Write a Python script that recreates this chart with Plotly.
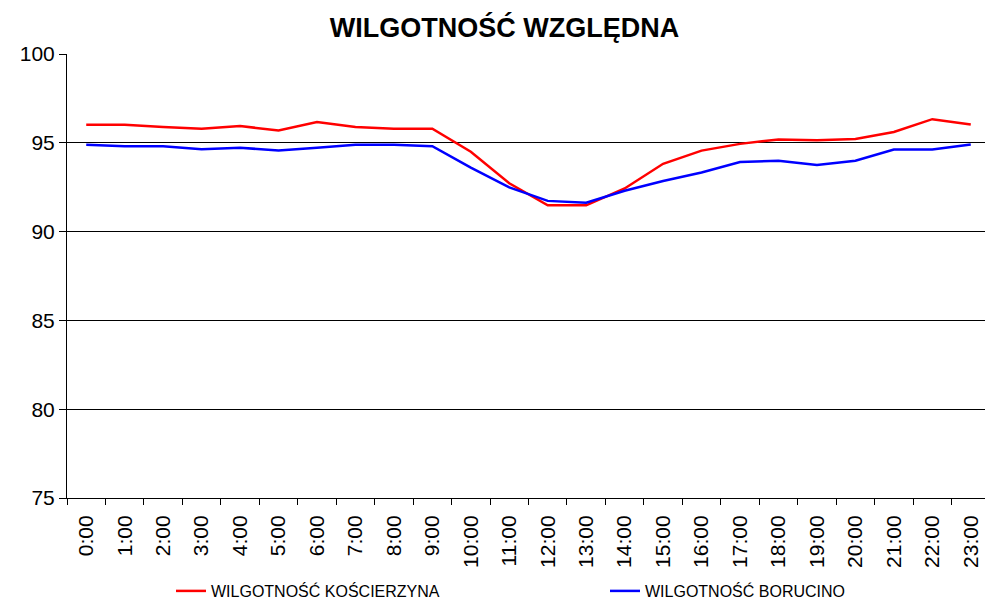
import plotly.graph_objects as go

hours = [f"{h}:00" for h in range(24)]
koscierzyna = [96.02, 96.02, 95.89, 95.79, 95.94, 95.70, 96.17, 95.89, 95.79, 95.79,
               94.50, 92.72, 91.48, 91.48, 92.43, 93.82, 94.56, 94.94, 95.19, 95.15,
               95.21, 95.61, 96.33, 96.03]
borucino = [94.89, 94.81, 94.81, 94.64, 94.72, 94.57, 94.72, 94.89, 94.89, 94.81,
            93.60, 92.49, 91.73, 91.63, 92.30, 92.85, 93.33, 93.92, 93.99, 93.75,
            93.99, 94.62, 94.62, 94.90]
name_k = "WILGOTNOŚĆ KOŚCIERZYNA"
name_b = "WILGOTNOŚĆ BORUCINO"
title = "WILGOTNOŚĆ WZGLĘDNA"
y_ticks = [75, 80, 85, 90, 95, 100]

FONT = "Liberation Sans, Arial, sans-serif"
legend_font = dict(size=16, family=FONT, color="black")

# the page body adds an 8px offset; the figure is sized so the plot lands where it should
W, H = 985, 594

fig = go.Figure()
fig.add_trace(go.Scatter(x=hours, y=koscierzyna, mode="lines", name=name_k,
                         line=dict(color="#FF0000", width=2.5), legend="legend"))
fig.add_trace(go.Scatter(x=hours, y=borucino, mode="lines", name=name_b,
                         line=dict(color="#0000FF", width=2.5), legend="legend2"))

fig.update_layout(
    width=W, height=H,
    margin=dict(l=59, r=3, t=46, b=104, autoexpand=False),
    paper_bgcolor="white", plot_bgcolor="white",
    font=dict(family=FONT, color="black"),
    title=dict(text=f"<b>{title}</b>", x=0.504, xref="container", xanchor="center",
               y=1 - 20 / H, yref="container", yanchor="middle",
               font=dict(size=27, family=FONT, color="black")),
    showlegend=True,
    legend=dict(x=163 / W, xanchor="left", y=1 - 583 / H, yanchor="middle",
                xref="container", yref="container",
                font=legend_font, bgcolor="rgba(0,0,0,0)"),
    legend2=dict(x=597 / W, xanchor="left", y=1 - 583 / H, yanchor="middle",
                 xref="container", yref="container",
                 font=legend_font, bgcolor="rgba(0,0,0,0)"),
)
fig.update_xaxes(type="category", range=[-0.5, 23.5], tickson="boundaries",
                 ticks="outside", ticklen=6, tickcolor="black", tickwidth=1,
                 showline=True, linecolor="black", linewidth=1,
                 showgrid=False, tickangle=-90, ticklabelstandoff=8,
                 tickfont=dict(size=21, family=FONT, color="black"))
fig.update_yaxes(range=[75, 100], tickvals=y_ticks, ticks="outside", ticklen=7,
                 tickcolor="black", tickwidth=1, showline=True, linecolor="black",
                 linewidth=1, showgrid=True, gridcolor="black", gridwidth=1,
                 zeroline=False, tickfont=dict(size=21, family=FONT, color="black"))

fig.write_html("out.html")
